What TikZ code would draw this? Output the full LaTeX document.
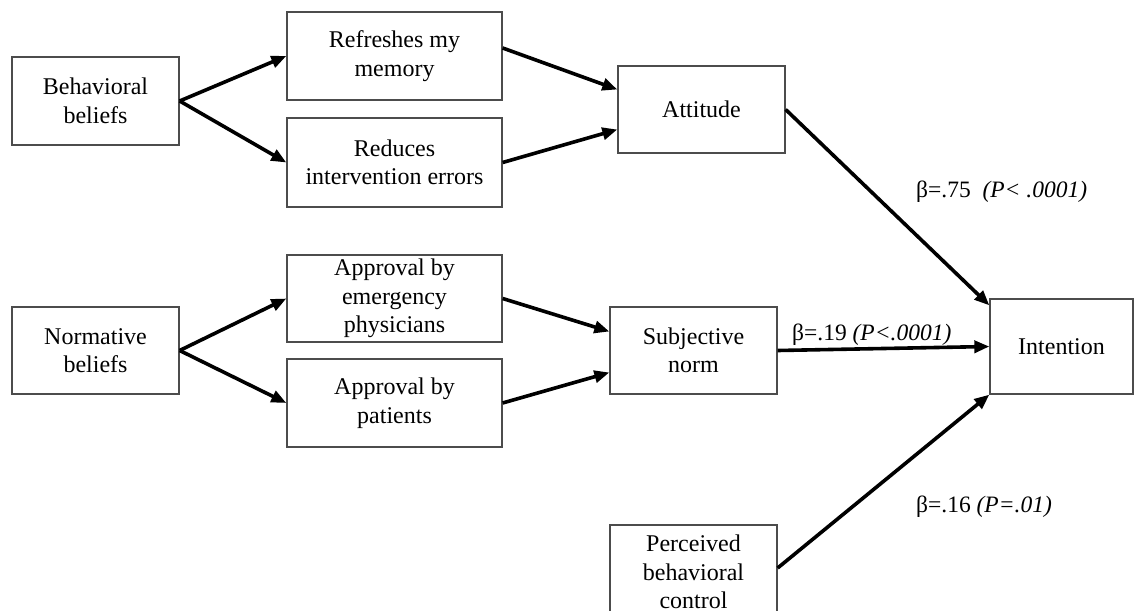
\documentclass[tikz,border=0pt]{standalone}
\usepackage{fontspec}
\setmainfont{Liberation Serif}
\usetikzlibrary{arrows.meta}
\begin{document}
\begin{tikzpicture}[x=1pt,y=-1pt,
  box/.style={draw=black!70, line width=1.3pt, align=center, inner sep=0pt,
    font=\fontsize{24}{28.5}\selectfont},
  arr/.style={line width=3.6pt, -{Triangle[length=15pt,width=12pt]}},
  coef/.style={anchor=west, inner sep=0pt, font=\fontsize{23.5}{28}\selectfont}]
\clip (0,0) rectangle (1145,610);
\fill[white] (0,0) rectangle (1145,610);

% belief boxes
\node[box, minimum width=167pt, minimum height=88pt] (bb) at (95.5,101) {Behavioral\\beliefs};
\node[box, minimum width=167pt, minimum height=87pt] (nb) at (95.5,350.5) {Normative\\beliefs};

% specific beliefs
\node[box, minimum width=215pt, minimum height=88pt] (rm)  at (394.5,56)    {Refreshes my\\memory};
\node[box, minimum width=215pt, minimum height=89pt] (rie) at (394.5,162.5) {Reduces\\intervention errors};
\node[box, minimum width=215pt, minimum height=87pt] (aep) at (394.5,298.5) {Approval by\\emergency\\physicians};
\node[box, minimum width=215pt, minimum height=88pt] (ap)  at (394.5,403)   {Approval by\\patients};

% constructs
\node[box, minimum width=167pt, minimum height=87pt] (att) at (701.5,109.5) {Attitude};
\node[box, minimum width=167pt, minimum height=87pt] (sn)  at (693.5,350.5) {Subjective\\norm};
\node[box, minimum width=167pt, minimum height=94pt] (pbc) at (693.5,572)   {Perceived\\behavioral\\control};
\node[box, minimum width=143pt, minimum height=95pt] (int) at (1061.5,346.5) {Intention};

% belief paths
\draw[arr] (bb.east) -- (rm.west);
\draw[arr] (bb.east) -- (rie.west);
\draw[arr] (nb.east) -- (aep.west);
\draw[arr] (nb.east) -- (ap.west);
\draw[arr] ([yshift=8pt]rm.east) -- ([yshift=20pt]att.west);
\draw[arr] (rie.east) -- ([yshift=-20pt]att.west);
\draw[arr] (aep.east) -- ([yshift=19pt]sn.west);
\draw[arr] (ap.east) -- ([yshift=-22pt]sn.west);

% paths to intention
\draw[arr] (att.east) -- ([yshift=-7pt]int.north west);
\draw[arr] (sn.east) -- (int.west);
\draw[arr] ([yshift=4pt]pbc.east) -- (int.south west);

% coefficients
\node[coef] (c1) at (916,192) {β=.75\ \ \textit{(P< .0001)}};
\node[coef] (c2) at (792,335) {β=.19 \textit{(P<.0001)}};
\node[coef] (c3) at (916,507) {β=.16 \textit{(P=.01)}};
\end{tikzpicture}
\end{document}
